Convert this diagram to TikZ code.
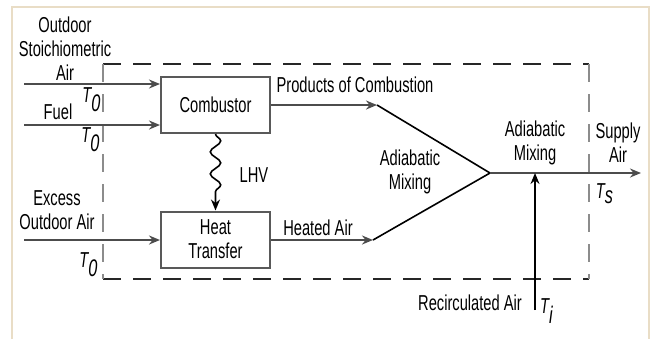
\documentclass[tikz,border=0pt]{standalone}
\usepackage{fontspec}
\setmainfont{Liberation Sans}[FakeStretch=0.68]
\usetikzlibrary{decorations.pathmorphing, arrows.meta}

\definecolor{framecol}{HTML}{E9DDC6}

\tikzset{
  unitbox/.style={draw=black!65, line width=1pt, minimum width=54.5pt, minimum height=28pt, align=center, inner sep=0pt},
  flow/.style={->, draw=black!70, line width=1pt},
  mixline/.style={line width=0.8pt, black},
  bound/.style={dash pattern=on 9pt off 6pt, line width=0.8pt},
  lbl/.style={align=center, inner sep=0pt},
}

\begin{document}
\begin{tikzpicture}[x=0.5pt, y=-0.5pt, >={Stealth[length=5.5pt,width=4.5pt]}, font=\fontsize{10.8}{12}\selectfont]
  \useasboundingbox (0,0) rectangle (651,339);
  % frame
  \draw[line width=1pt, framecol] (11.5,339) -- (11.5,6.5) -- (649,6.5) -- (649,339);
  % control volume
  \draw[bound, black!85] (103,64) -- (589,64);
  \draw[bound, black!85] (103,279) -- (589,279);
  \draw[bound, black!45, line width=1.1pt] (103,64) -- (103,279);
  \draw[bound, black!45, line width=1.1pt] (589,64) -- (589,279);
  % units
  \node[unitbox] (comb) at (215.5,105) {Combustor};
  \node[unitbox] (heat) at (215.5,239.5) {Heat\\Transfer};
  % points of the mixing
  \coordinate (airin) at (24,84);
  \coordinate (fuelin) at (24,125);
  \coordinate (excin) at (24,240);
  \coordinate (pc) at (377,105);
  \coordinate (ha) at (373,240);
  \coordinate (mix) at (490,173);
  \coordinate (out) at (641,173);
  \coordinate (join) at (535,173);
  \coordinate (rec) at (535,310);
  % inlets
  \draw[flow] (airin) -- (comb.west |- airin);
  \draw[flow] (fuelin) -- (comb.west |- fuelin);
  \draw[flow] (excin) -- (heat.west |- excin);
  % heat from combustor
  \draw[->, line width=0.8pt, decorate, decoration={snake, amplitude=2.6pt, segment length=11pt, post length=5pt}] (comb) -- (heat);
  % streams to the mixing
  \draw[flow] (comb.east |- pc) -- (pc);
  \draw[flow] (heat.east |- ha) -- (ha);
  \draw[mixline] (pc) -- (mix) -- (ha);
  \draw[flow] (mix) -- (out);
  \draw[->, line width=0.8pt] (rec) -- (join);
  % labels
  \node[lbl] (lstoich) at (65,48.5) {Outdoor\\Stoichiometric\\Air};
  \node[lbl] (lfuel) at (58,112) {Fuel};
  \node[lbl] (lexcess) at (57,210) {Excess\\Outdoor Air};
  \node[lbl] (t1) at (92,100) {\textit{T\textsubscript{\large 0}}};
  \node[lbl] (t2) at (91,140) {\textit{T\textsubscript{\large 0}}};
  \node[lbl] (t3) at (89,265) {\textit{T\textsubscript{\large 0}}};
  \node[lbl] (lprod) at (355,85) {Products of Combustion};
  \node[lbl] (llhv) at (254,175) {LHV};
  \node[lbl] (lheated) at (318,228) {Heated Air};
  \node[lbl] (lmix1) at (410,172) {Adiabatic\\Mixing};
  \node[lbl] (lmix2) at (535,143) {Adiabatic\\Mixing};
  \node[lbl] (lsupply) at (618,143) {Supply\\Air};
  \node[lbl] (ts) at (605,194) {\textit{T\textsubscript{\large s}}};
  \node[lbl] (lrec) at (470,303) {Recirculated Air};
  \node[lbl] (ti) at (547,311) {\textit{T\textsubscript{\large i}}};
\end{tikzpicture}
\end{document}
